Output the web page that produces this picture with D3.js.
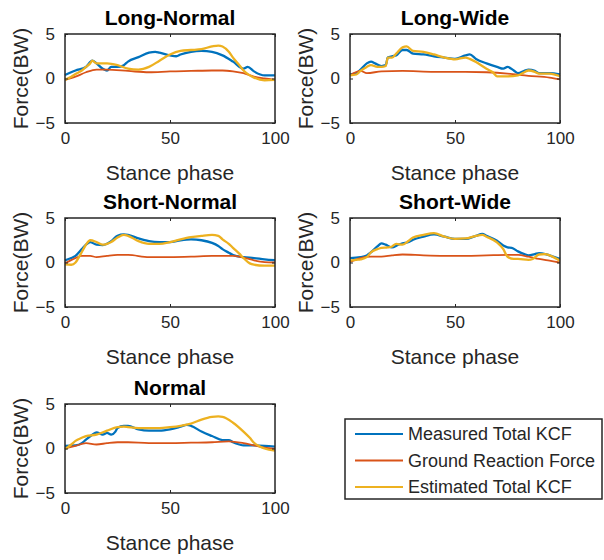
<!DOCTYPE html>
<html>
<head>
<meta charset="utf-8">
<script src="https://cdn.jsdelivr.net/npm/d3@7"></script>
<style>
  body { margin: 0; background: #fff; }
  text { font-family: "Liberation Sans", Arial, sans-serif; fill: #262626; }
</style>
</head>
<body>
<svg></svg>
<script>
// x ticks / y ticks
var phaseTicks = [0, 50, 100];
var forceTicks = [-5, 0, 5];
var seriesNames = ["Measured Total KCF", "Ground Reaction Force", "Estimated Total KCF"];
var seriesColors = ["#0072BD", "#D95319", "#EDB120"];
var panelTitles = ["Long-Normal", "Long-Wide", "Short-Normal", "Short-Wide", "Normal"];

// [stance phase %, force (BW)]
var longNormalMeasured = [[0,0.4],[5,0.9],[10,1.3],[13,2.0],[15,1.7],[18,1.1],[20,0.9],[22,1.3],[25,1.3],[28,1.5],[30,1.9],[35,2.4],[40,2.9],[43,3.0],[45,2.9],[50,2.6],[53,2.5],[55,2.7],[60,3.0],[65,3.1],[70,3.0],[75,2.6],[80,1.9],[85,1.1],[87,1.3],[90,0.8],[93,0.45],[95,0.35],[100,0.35]];
var longNormalGRF = [[0,-0.15],[5,0.2],[10,0.7],[15,1.0],[20,1.0],[30,0.85],[40,0.7],[50,0.8],[60,0.85],[70,0.9],[75,0.9],[80,0.8],[85,0.6],[90,0.2],[95,0],[100,-0.15]];
var longNormalEstimated = [[0,-0.15],[3,0.2],[5,0.5],[8,0.9],[10,1.3],[12,1.7],[13,2.0],[15,1.7],[18,1.7],[20,1.7],[25,1.5],[30,1.1],[35,1.0],[40,1.3],[45,2.0],[50,2.7],[55,3.1],[60,3.2],[65,3.3],[70,3.6],[73,3.7],[75,3.6],[78,3.0],[80,2.35],[83,1.5],[85,0.9],[88,0.35],[90,0.1],[95,-0.2],[100,-0.15]];

var longWideMeasured = [[0,0.45],[3,0.6],[5,1.0],[8,1.7],[10,1.9],[12,1.7],[15,1.4],[17,1.5],[18,2.35],[20,2.5],[22,2.6],[25,3.2],[27,3.2],[30,2.8],[35,2.7],[40,2.5],[45,2.35],[50,2.2],[55,2.6],[57,2.7],[60,2.2],[65,1.7],[70,1.3],[73,1.1],[75,1.3],[78,0.9],[80,0.6],[83,0.85],[85,1.0],[88,0.85],[90,0.6],[95,0.6],[100,0.45]];
var longWideGRF = [[0,0.35],[5,0.85],[8,0.6],[15,0.8],[25,0.85],[40,0.75],[55,0.75],[65,0.7],[75,0.55],[85,0.3],[95,0.1],[100,-0.1]];
var longWideEstimated = [[0,0.35],[3,0.45],[5,0.85],[8,1.3],[10,1.5],[13,1.3],[15,1.3],[17,1.4],[18,2.35],[20,2.35],[22,2.8],[25,3.5],[27,3.6],[30,3.1],[35,3.0],[40,2.7],[45,2.35],[50,2.15],[55,2.35],[57,2.2],[60,1.85],[65,1.1],[68,0.7],[70,0.25],[73,0.25],[75,0.25],[80,0.35],[83,0.7],[85,0.9],[88,0.75],[90,0.55],[95,0.55],[100,0.25]];

var shortNormalMeasured = [[0,0.25],[3,0.5],[5,0.75],[8,1.5],[10,2.0],[12,2.3],[15,2.0],[18,1.95],[20,2.1],[22,2.4],[25,3.0],[28,3.15],[30,3.1],[35,2.7],[40,2.4],[45,2.3],[50,2.3],[55,2.5],[60,2.6],[65,2.5],[70,2.2],[73,1.85],[75,1.5],[78,1.1],[80,0.85],[85,0.6],[90,0.5],[95,0.35],[100,0.25]];
var shortNormalGRF = [[0,-0.1],[5,0.5],[8,0.75],[12,0.75],[15,0.6],[20,0.75],[25,0.85],[30,0.85],[40,0.6],[50,0.6],[60,0.65],[70,0.75],[80,0.75],[85,0.55],[90,0.25],[95,0.05],[100,0]];
var shortNormalEstimated = [[0,-0.2],[3,-0.25],[5,0],[7,0.75],[10,2.0],[12,2.5],[15,2.3],[18,2.0],[20,2.1],[22,2.3],[25,2.8],[28,3.1],[30,3.0],[35,2.4],[40,2.1],[45,2.1],[50,2.3],[55,2.6],[60,2.85],[65,3.0],[70,3.1],[73,3.0],[75,2.6],[78,2.1],[80,1.65],[83,1.0],[85,0.5],[88,-0.1],[90,-0.25],[95,-0.35],[100,-0.35]];

var shortWideMeasured = [[0,0.5],[5,0.6],[8,0.8],[10,1.15],[13,1.8],[15,2.15],[17,2.0],[20,1.7],[23,2.0],[25,2.15],[28,2.3],[30,2.55],[35,2.9],[40,3.15],[45,2.9],[50,2.65],[55,2.65],[60,3.0],[63,3.2],[65,3.0],[70,2.45],[73,1.9],[75,1.7],[77,1.65],[80,1.25],[83,0.95],[85,0.8],[88,0.95],[90,1.05],[93,0.95],[95,0.8],[100,0.4]];
var shortWideGRF = [[0,0.05],[5,0.5],[10,0.65],[15,0.65],[20,0.8],[25,0.9],[35,0.8],[45,0.75],[55,0.75],[65,0.8],[75,0.85],[80,0.85],[85,0.65],[90,0.4],[95,0.2],[100,0]];
var shortWideEstimated = [[0,0.2],[3,0.3],[5,0.35],[8,0.6],[10,1.15],[13,1.5],[15,1.65],[18,1.7],[20,1.8],[22,2.1],[25,2.0],[28,2.45],[30,2.8],[35,3.1],[40,3.3],[45,2.9],[50,2.65],[55,2.7],[60,3.0],[63,3.1],[65,2.9],[70,2.25],[73,1.5],[75,0.65],[78,0.4],[80,0.4],[85,0.3],[87,0.4],[90,0.9],[93,0.95],[95,0.8],[100,0.2]];

var normalMeasured = [[0,0.3],[5,0.35],[8,0.6],[10,1.0],[13,1.55],[15,1.8],[18,1.55],[20,1.75],[22,1.55],[24,1.9],[25,2.3],[28,2.55],[30,2.55],[35,2.15],[40,2.0],[45,2.0],[50,2.15],[55,2.45],[58,2.65],[60,2.55],[65,1.9],[70,1.4],[75,0.95],[78,0.95],[80,0.7],[83,0.45],[85,0.35],[90,0.35],[95,0.3],[100,0.2]];
var normalGRF = [[0,0],[5,0.3],[10,0.6],[15,0.45],[20,0.6],[25,0.7],[30,0.7],[40,0.6],[50,0.6],[60,0.65],[70,0.7],[78,0.8],[85,0.6],[90,0.35],[95,0.1],[100,-0.05]];
var normalEstimated = [[0,-0.1],[3,0.45],[5,0.85],[8,1.2],[10,1.4],[15,1.55],[20,2.0],[25,2.4],[28,2.45],[30,2.4],[35,2.3],[40,2.3],[45,2.3],[50,2.4],[55,2.55],[60,2.8],[65,3.25],[70,3.55],[73,3.6],[75,3.55],[80,2.9],[85,1.9],[88,1.2],[90,0.65],[93,0.2],[95,0],[100,-0.25]];

var panelSeries = [
  [longNormalMeasured, longNormalGRF, longNormalEstimated],
  [longWideMeasured, longWideGRF, longWideEstimated],
  [shortNormalMeasured, shortNormalGRF, shortNormalEstimated],
  [shortWideMeasured, shortWideGRF, shortWideEstimated],
  [normalMeasured, normalGRF, normalEstimated]
];

var width = 604, height = 560;
var colX = [65, 350], rowY = [34, 218, 404];
var pw = 210, ph = 89;

var svg = d3.select("svg").attr("width", width).attr("height", height);

var x = d3.scaleLinear().domain([0, 100]).range([0, pw]);
var y = d3.scaleLinear().domain([-5, 5]).range([ph, 0]);

var line = d3.line()
  .x(function(d) { return x(d[0]); })
  .y(function(d) { return y(d[1]); })
  .curve(d3.curveMonotoneX);

panelTitles.forEach(function(title, i) {
  var g = svg.append("g")
    .attr("transform", "translate(" + colX[i % 2] + "," + rowY[Math.floor(i / 2)] + ")");

  // lines
  panelSeries[i].forEach(function(s, k) {
    g.append("path")
      .datum(s)
      .attr("d", line)
      .attr("fill", "none")
      .attr("stroke", seriesColors[k])
      .attr("stroke-width", k == 1 ? 1.8 : 2.3)
      .attr("stroke-linejoin", "round");
  });

  // axes, ticks pointing inward like matlab
  var bottom = g.append("g").attr("transform", "translate(0," + ph + ")")
    .call(d3.axisBottom(x).tickValues(phaseTicks).tickSizeInner(-3).tickSizeOuter(0).tickPadding(9));
  var left = g.append("g")
    .call(d3.axisLeft(y).tickValues(forceTicks).tickSizeInner(-3).tickSizeOuter(0).tickPadding(10));
  g.append("g").call(d3.axisTop(x).tickValues(phaseTicks).tickSizeInner(-3).tickSizeOuter(0))
    .selectAll("text").remove();
  g.append("g").attr("transform", "translate(" + pw + ",0)")
    .call(d3.axisRight(y).tickValues(forceTicks).tickSizeInner(-3).tickSizeOuter(0))
    .selectAll("text").remove();

  svg.selectAll(".domain").remove();
  g.selectAll(".tick line").attr("stroke", "#262626");
  [bottom, left].forEach(function(a) {
    a.selectAll("text")
      .attr("font-size", 17)
      .attr("font-family", "Liberation Sans, Arial, sans-serif")
      .attr("fill", "#262626");
  });

  g.append("rect")
    .attr("width", pw).attr("height", ph)
    .attr("fill", "none")
    .attr("stroke", "#262626")
    .attr("stroke-width", 1.5);

  g.append("text")
    .attr("x", pw / 2).attr("y", -9)
    .attr("text-anchor", "middle")
    .attr("font-size", 21)
    .attr("font-weight", "bold")
    .style("fill", "#000")
    .text(title);

  g.append("text")
    .attr("x", pw / 2).attr("y", ph + 57)
    .attr("text-anchor", "middle")
    .attr("font-size", 21)
    .text("Stance phase");

  g.append("text")
    .attr("transform", "translate(-37," + (ph / 2) + ") rotate(-90)")
    .attr("text-anchor", "middle")
    .attr("font-size", 21)
    .text("Force(BW)");
});

// legend
var legend = svg.append("g").attr("transform", "translate(345,419)");
legend.append("rect")
  .attr("width", 257).attr("height", 80)
  .attr("fill", "#fff")
  .attr("stroke", "#262626")
  .attr("stroke-width", 1.5);

var items = legend.selectAll(".item")
  .data(seriesNames)
  .enter()
  .append("g")
  .attr("transform", function(d, i) { return "translate(0," + (15 + i * 26.5) + ")"; });

items.append("line")
  .attr("x1", 10).attr("x2", 58)
  .attr("stroke", function(d, i) { return seriesColors[i]; })
  .attr("stroke-width", 2);

items.append("text")
  .attr("x", 63).attr("dy", "0.35em")
  .attr("font-size", 18)
  .text(function(d) { return d; });
</script>
</body>
</html>
